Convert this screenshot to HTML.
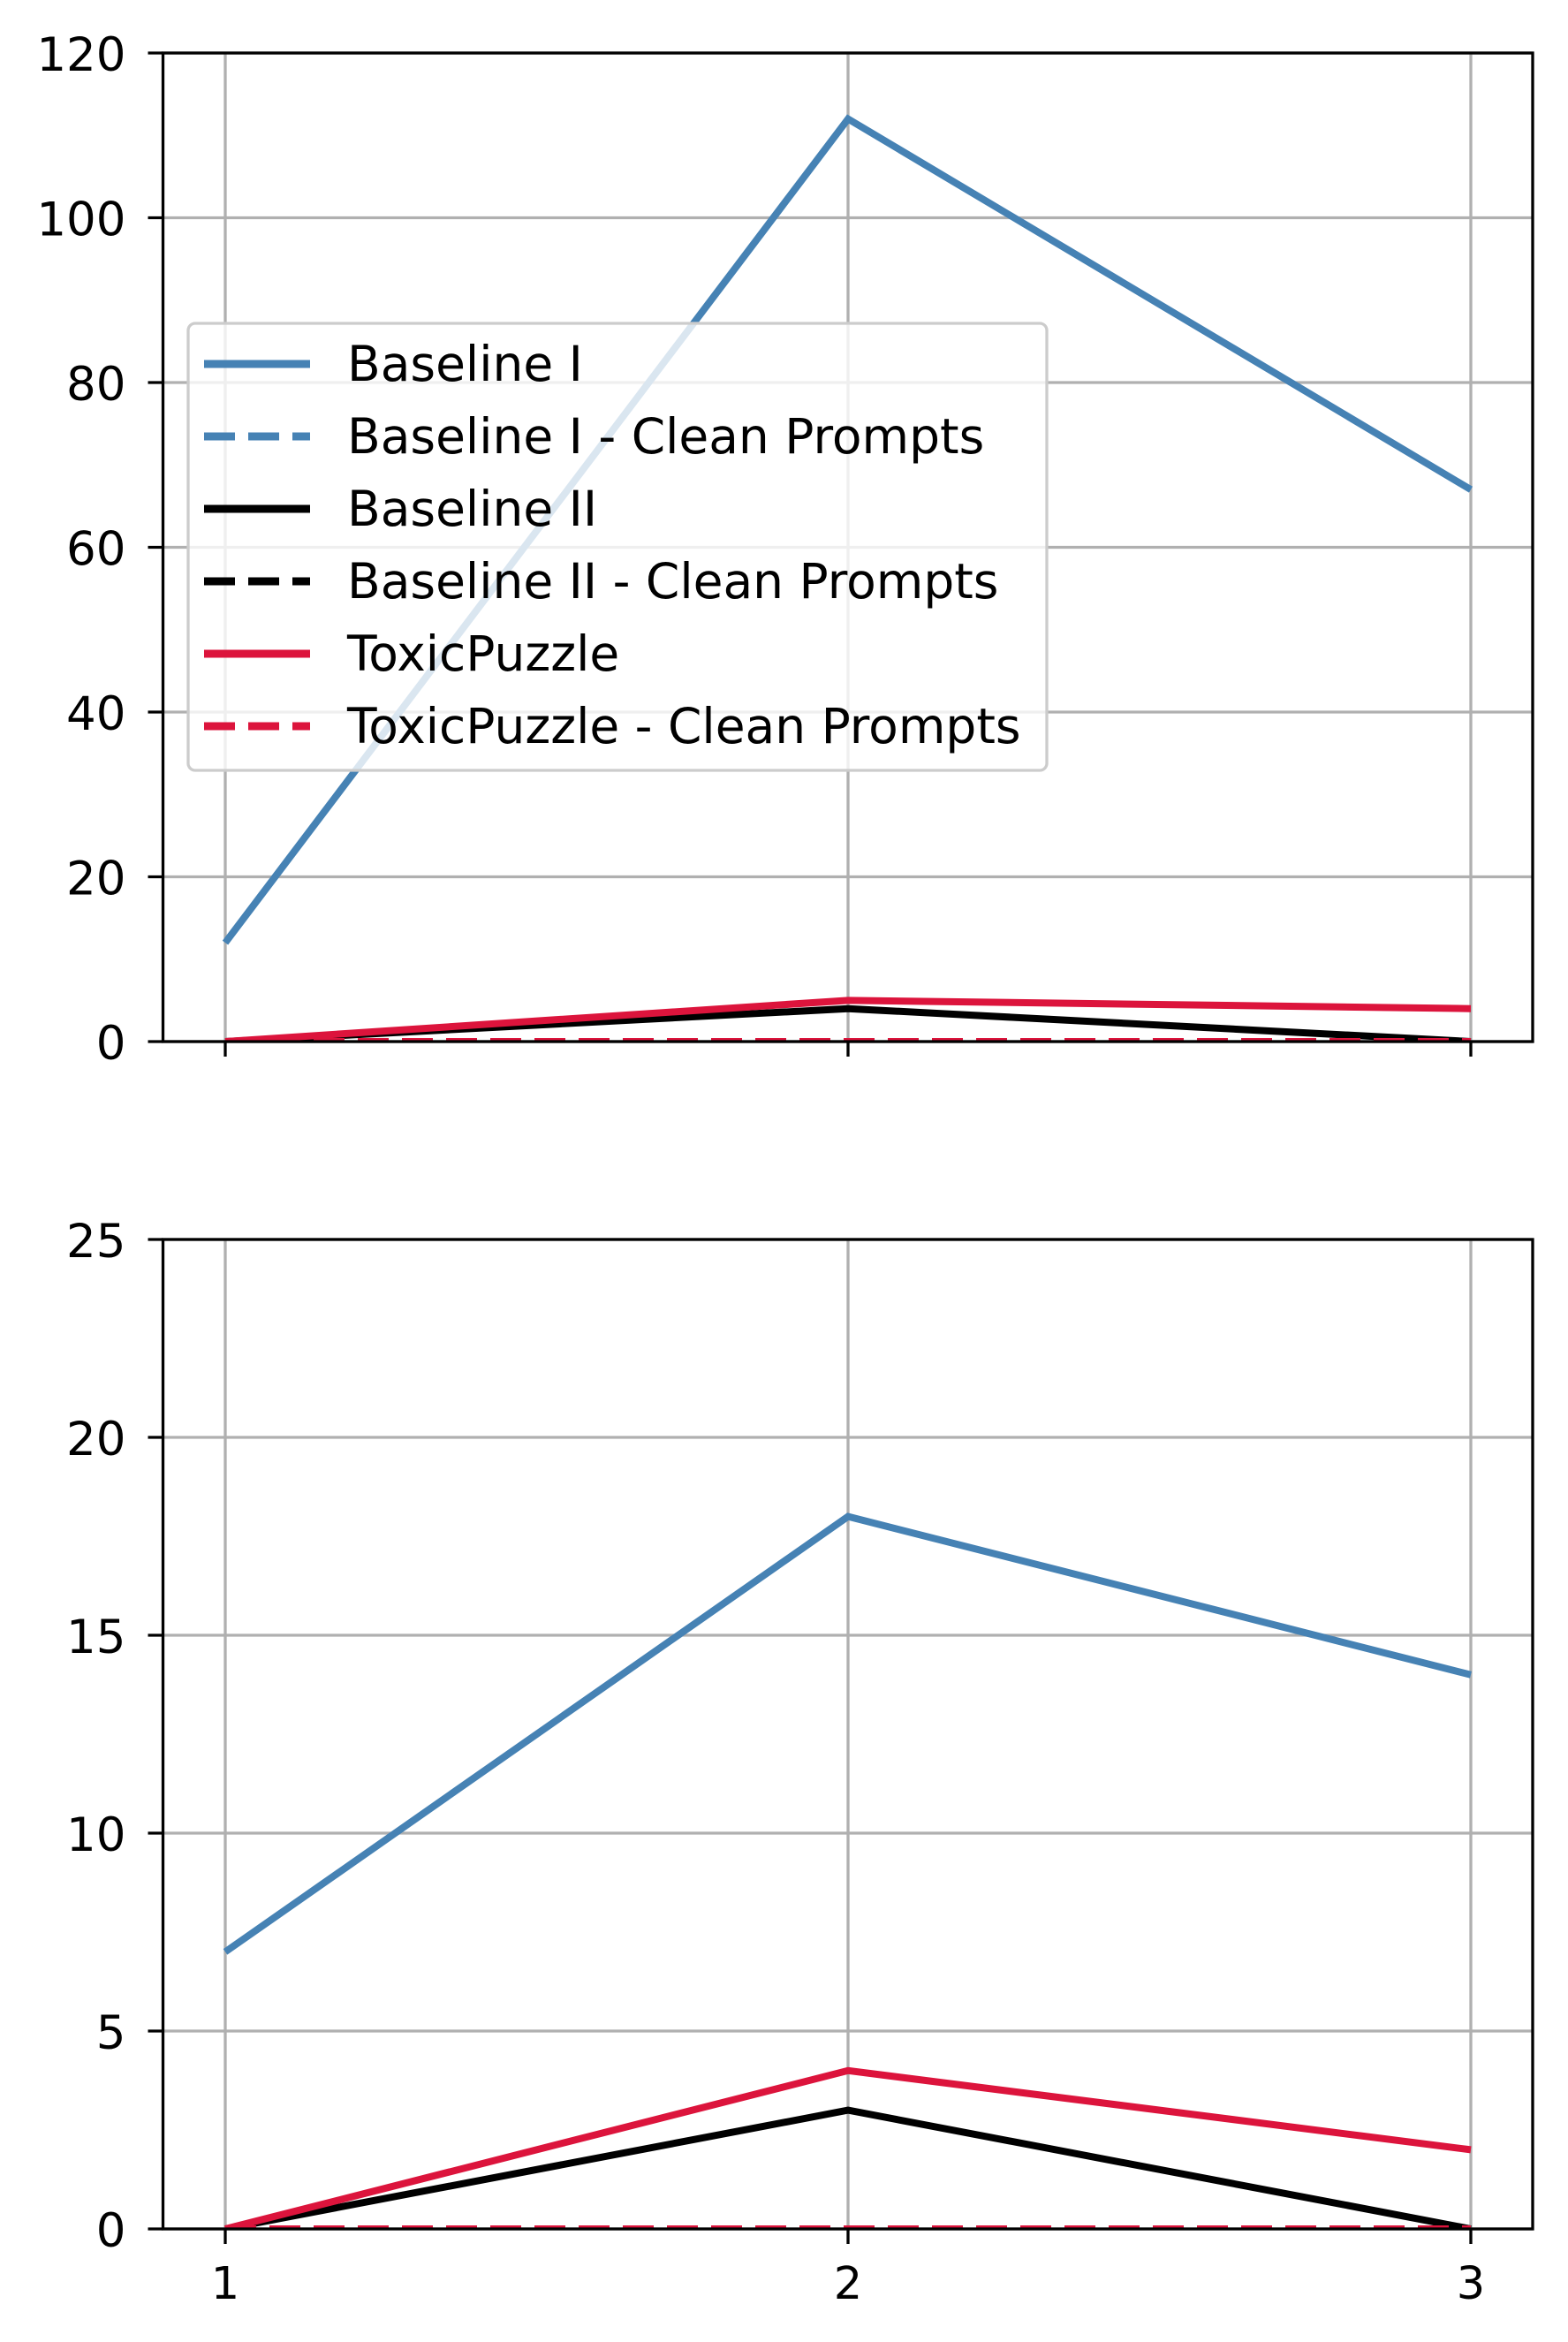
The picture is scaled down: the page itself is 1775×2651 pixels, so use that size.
<!DOCTYPE html>
<html><head><meta charset="utf-8"><style>body{margin:0;background:#fff}svg{display:block}</style></head>
<body>
<svg id="fig" width="1775" height="2651" xmlns="http://www.w3.org/2000/svg" font-family="'DejaVu Sans','Liberation Sans',sans-serif">
<defs>
<clipPath id="clipTop"><rect x="184.5" y="60" width="1550.5" height="1119"/></clipPath>
<clipPath id="clipBot"><rect x="184.5" y="1403" width="1550.5" height="1120"/></clipPath>
</defs>
</svg>
<script>
const categories=[1,2,3];
const topBaselineI=[12,112,67];
const topBaselineIClean=[0,0,0];
const topBaselineII=[0,4,0];
const topBaselineIIClean=[0,0,0];
const topToxicPuzzle=[0,5,4];
const topToxicPuzzleClean=[0,0,0];
const botBaselineI=[7,18,14];
const botBaselineIClean=[0,0,0];
const botBaselineII=[0,3,0];
const botBaselineIIClean=[0,0,0];
const botToxicPuzzle=[0,4,2];
const botToxicPuzzleClean=[0,0,0];
const topTicks=[0,20,40,60,80,100,120];
const botTicks=[0,5,10,15,20,25];
const seriesNames=["Baseline I","Baseline I - Clean Prompts","Baseline II","Baseline II - Clean Prompts","ToxicPuzzle","ToxicPuzzle - Clean Prompts"];
const colors=["#4682b4","#4682b4","#000000","#000000","#dc143c","#dc143c"];
const NS="http://www.w3.org/2000/svg";
const svg=document.getElementById('fig');
function mk(tag,attrs,parent){const e=document.createElementNS(NS,tag);for(const k in attrs)e.setAttribute(k,attrs[k]);(parent||svg).appendChild(e);return e;}
const L=184.5,R=1735,FS=53,XFS=51,LFS=55,LW=8,SW=3.3,DASH='35 15';
function xs(v){return 255+(v-1)*(1665-255)/2;}
function panel(name,top,bottom,ymax,ticks,series,showX,clip){
  const g=mk('g',{});
  
  
  const ys=v=>bottom-(v/ymax)*(bottom-top);
  categories.forEach(c=>{const l=mk('line',{x1:xs(c),x2:xs(c),y1:top,y2:bottom,stroke:'#b0b0b0','stroke-width':SW},g);
    
  });
  ticks.forEach(v=>{const y=ys(v);
    const l=mk('line',{x1:L,x2:R,y1:y,y2:y,stroke:'#b0b0b0','stroke-width':SW},g);
    
  });
  const lg=mk('g',{'clip-path':'url(#'+clip+')'},g);
  series.forEach((s,i)=>{
    const pts=s.map((v,j)=>xs(categories[j])+','+ys(v)).join(' ');
    const a={points:pts,fill:'none',stroke:colors[i],'stroke-width':LW};
    if(i%2==1)a['stroke-dasharray']=DASH;
    const p=mk('polyline',a,lg);
    
    
  });
  categories.forEach(c=>{
    const t=mk('line',{x1:xs(c),x2:xs(c),y1:bottom,y2:bottom+17,stroke:'#000','stroke-width':SW},g);
    
    if(showX){const tx=mk('text',{x:xs(c),y:bottom+79,'text-anchor':'middle','font-size':XFS},g);tx.textContent=c;
      }
  });
  ticks.forEach(v=>{const y=ys(v);
    const t=mk('line',{x1:L-17,x2:L,y1:y,y2:y,stroke:'#000','stroke-width':SW},g);
    
    const tx=mk('text',{x:L-42,y:y+20,'text-anchor':'end','font-size':FS},g);tx.textContent=v;
    
  });
  const f=mk('rect',{x:L,y:top,width:R-L,height:bottom-top,fill:'none',stroke:'#000','stroke-width':SW},g);
  
}
panel('top-panel',60,1179,120,topTicks,[topBaselineI,topBaselineIClean,topBaselineII,topBaselineIIClean,topToxicPuzzle,topToxicPuzzleClean],false,'clipTop');
panel('bottom-panel',1403,2523,25,botTicks,[botBaselineI,botBaselineIClean,botBaselineII,botBaselineIIClean,botToxicPuzzle,botToxicPuzzleClean],true,'clipBot');
const lg=mk('g',{});


mk('rect',{x:213,y:366,width:972,height:506,rx:8,fill:'#fff','fill-opacity':0.8,stroke:'#cccccc','stroke-width':SW},lg);
seriesNames.forEach((n,i)=>{
  const y=412+i*82;
  const a={x1:231,x2:351,y1:y,y2:y,stroke:colors[i],'stroke-width':LW+1};
  if(i%2==1)a['stroke-dasharray']=DASH;
  const h=mk('line',a,lg);
  
  const t=mk('text',{x:393,y:y+19,'font-size':LFS},lg);t.textContent=n;
  
});
</script>
</body></html>
